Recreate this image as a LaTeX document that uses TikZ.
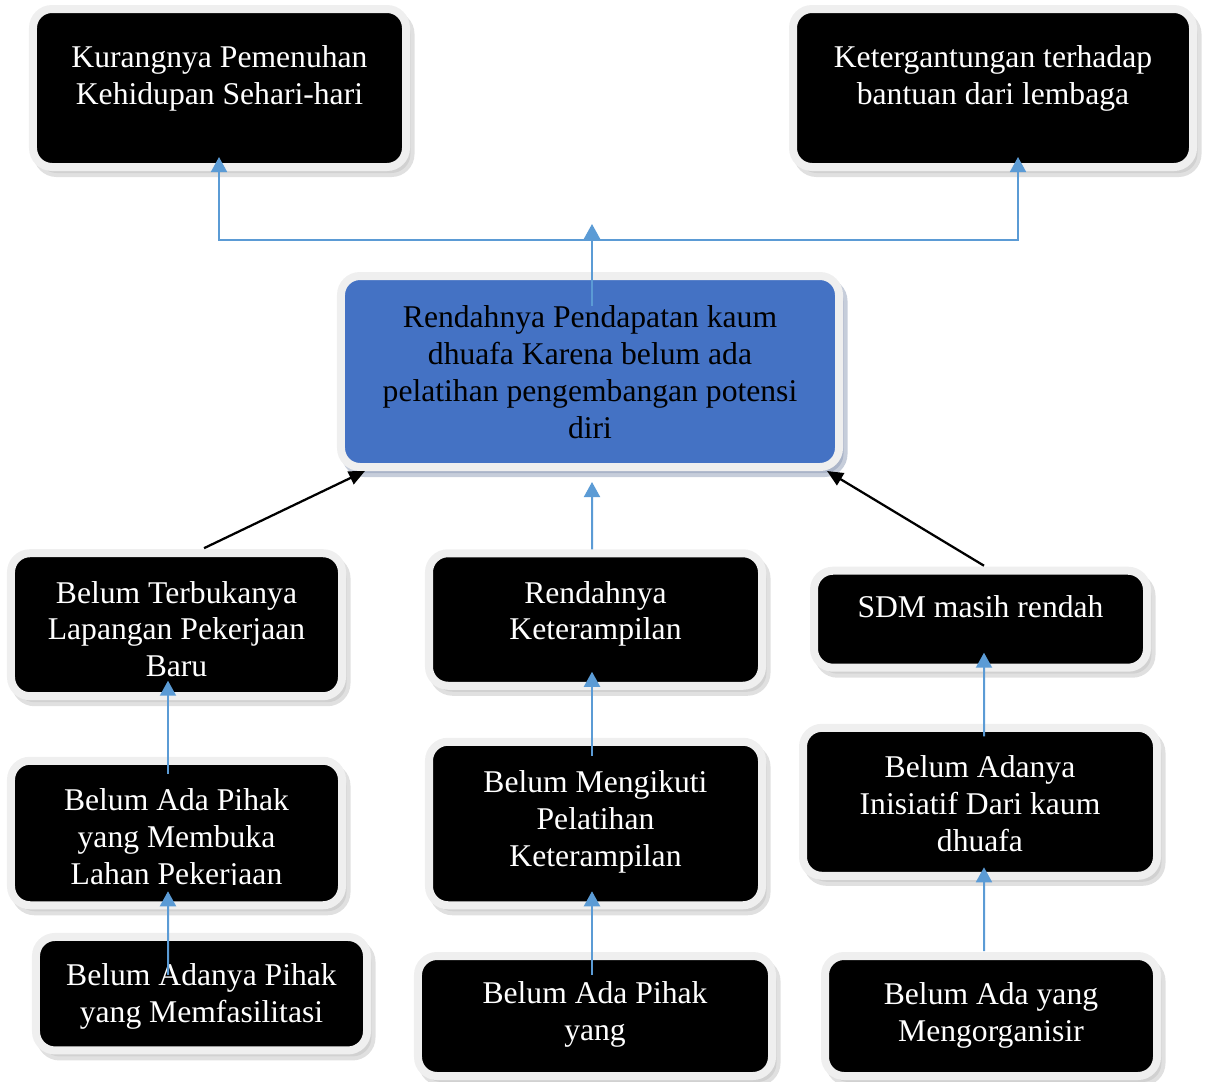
\documentclass[tikz,border=0pt]{standalone}
\usepackage{fontspec}
\setmainfont{Liberation Serif}
\usepackage{trimclip}
\usepackage{tikz}
\usetikzlibrary{arrows.meta,shadows}
\definecolor{boxblue}{HTML}{4472C4}
\definecolor{linkblue}{HTML}{5B9BD5}
\definecolor{rim}{HTML}{EFEFEF}
\definecolor{shade}{HTML}{C2C2C2}
\definecolor{blueshade}{HTML}{8E9BB6}

\begin{document}
\begin{tikzpicture}[x=0.2mm,y=-0.2mm]
    \newcommand{\cell}[4][4.8mm]{\parbox[c][#3][t]{#2}{\centering\vspace*{#1}\strut #4}}
    \tikzstyle{plate} = [
      rounded corners=3.8mm,
      draw=rim,
      line width=1.6mm,
      inner sep=0pt,
      font=\fontsize{18}{21}\selectfont,
    ]
    \tikzstyle{box}  = [plate,fill=black,text=white,
      drop shadow={shadow xshift=0.9mm,shadow yshift=-1.2mm,fill=shade,draw=shade,line width=1.6mm}]
    \tikzstyle{core} = [plate,fill=boxblue,text=black,
      drop shadow={shadow xshift=0.9mm,shadow yshift=-1.2mm,fill=blueshade,draw=blueshade,line width=1.6mm}]
    \tikzstyle{link}  = [line width=0.4mm,draw=linkblue,-{Triangle[width=3.2mm,length=3mm]}]
    \tikzstyle{rail}  = [line width=0.35mm,draw=linkblue]
    \tikzstyle{dlink} = [line width=0.45mm,draw=black,-{Triangle[width=2.8mm,length=3.2mm]}]

    \useasboundingbox (0,0) rectangle (1206,1082);

    % akibat
    \node[box] (kur) at (219.5,88) {\cell[6.6mm]{74.6mm}{31.6mm}{Kurangnya Pemenuhan\\Kehidupan Sehari-hari}};
    \node[box] (ket) at (993,88) {\cell[6.6mm]{80mm}{31.6mm}{Ketergantungan terhadap\\bantuan dari lembaga}};

    % masalah inti
    \node[core] (pend) at (590,371.5) {\cell[5.2mm]{99.6mm}{38.2mm}{Rendahnya Pendapatan kaum\\dhuafa Karena belum ada\\pelatihan pengembangan potensi\\diri}};

    % penyebab
    \node[box] (terb) at (176.5,624.7) {\cell{66.2mm}{28.6mm}{Belum Terbukanya\\Lapangan Pekerjaan\\Baru}};
    \node[box] (buka) at (176.5,833) {\cell{66.2mm}{28.9mm}{Belum Ada Pihak\\yang Membuka\\\clipbox{0pt 4pt 0pt 0pt}{Lahan Pekerjaan}}};
    \node[box] (fasil) at (201.5,993.7) {\cell[4.5mm]{66.2mm}{22.7mm}{Belum Adanya Pihak\\yang Memfasilitasi}};

    \node[box] (terampil) at (595.5,619.5) {\cell{66.6mm}{26.5mm}{Rendahnya\\Keterampilan}};
    \node[box] (ikut) at (595.5,823.5) {\cell[5mm]{66.6mm}{32.7mm}{Belum Mengikuti\\Pelatihan\\Keterampilan}};
    \node[box] (pihak) at (595,1016) {\cell[4.3mm]{70.8mm}{24mm}{Belum Ada Pihak\\yang}};

    \node[box] (sdm) at (980.5,619.2) {\cell[4.2mm]{66.6mm}{19.4mm}{SDM masih rendah}};
    \node[box] (inis) at (980,801.8) {\cell{70.8mm}{29.6mm}{Belum Adanya\\Inisiatif Dari kaum\\dhuafa}};
    \node[box] (organ) at (991,1016) {\cell[4.5mm]{66.4mm}{24mm}{Belum Ada yang\\Mengorganisir}};

    \coordinate (fork) at (592,224);
    \coordinate (junc) at (592,240);

    \draw[rail,-{Triangle[width=3.2mm,length=3mm]}] (junc) -| ([xshift=-0.1mm,yshift=2.8mm]kur.south);
    \draw[rail,-{Triangle[width=3.2mm,length=3mm]}] (junc) -| ([xshift=5mm,yshift=2.8mm]ket.south);
    \draw[link] ([xshift=0.4mm,yshift=-6.8mm]pend.north) -- (fork);

    \draw[dlink] ([xshift=5.5mm,yshift=0.2mm]terb.north) -- ([xshift=-45mm]pend.south);
    \draw[link] ([xshift=-0.7mm]terampil.north) -- ([xshift=0.4mm,yshift=-2.2mm]pend.south);
    \draw[dlink] ([xshift=0.7mm,yshift=0.2mm]sdm.north) -- ([xshift=47.4mm]pend.south);

    \draw[link] ([xshift=-1.7mm,yshift=-3.4mm]buka.north) -- ([xshift=-1.7mm,yshift=3.9mm]terb.south);
    \draw[link] ([xshift=-6.7mm,yshift=-8.4mm]fasil.north) -- ([xshift=-1.7mm,yshift=3.6mm]buka.south);
    \draw[link] ([xshift=-0.7mm,yshift=-3.6mm]ikut.north) -- ([xshift=-0.7mm,yshift=3.6mm]terampil.south);
    \draw[link] ([xshift=-0.6mm,yshift=-4.6mm]pihak.north) -- ([xshift=-0.7mm,yshift=3.6mm]ikut.south);
    \draw[link] ([xshift=0.8mm,yshift=-2.5mm]inis.north) -- ([xshift=0.7mm,yshift=3.8mm]sdm.south);
    \draw[link] ([xshift=-1.4mm,yshift=0.2mm]organ.north) -- ([xshift=0.8mm,yshift=2.5mm]inis.south);
\end{tikzpicture}
\end{document}
